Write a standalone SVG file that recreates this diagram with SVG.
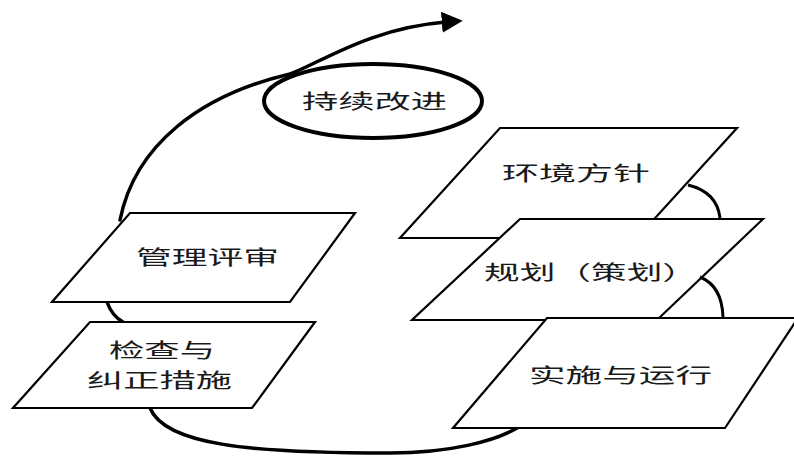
<svg xmlns="http://www.w3.org/2000/svg" width="794" height="458" viewBox="0 0 794 458">
<style>
.box{fill:#fff;stroke:#000;stroke-width:2.2;stroke-linejoin:miter}
.conn{fill:none;stroke:#000;stroke-width:3.5;stroke-linecap:round}
.arc{fill:none;stroke:#000;stroke-width:3}
.lbl{font-family:"Noto Sans CJK SC","Noto Sans CJK JP",sans-serif;font-size:20px;fill:#1a1a1a;text-anchor:start}
</style>
<defs>
<marker id="ah" viewBox="0 0 10 10" refX="2" refY="5" markerWidth="6" markerHeight="6" orient="auto" markerUnits="strokeWidth">
<path d="M0 0 L10 5 L0 10 Z" fill="#000"/>
</marker>
</defs>
<rect width="794" height="458" fill="#fff"/>
<g id="connectors">
<path class="conn" d="M120 220 C135 145 200 95 290 74 C320 63 370 28 446 22" marker-end="url(#ah)"/>
<path class="conn" d="M107 302 Q112 316 123 322"/>
<path class="conn" d="M150 408 C165 445 250 453 390 453 C450 453 495 441 517 428"/>
</g>
<g id="n-improve">
<ellipse cx="373" cy="101" rx="109" ry="37" fill="#fff" stroke="#000" stroke-width="4"/>
<text class="lbl" x="302" y="109" textLength="145" lengthAdjust="spacingAndGlyphs">持续改进</text>
</g>
<g id="n-review">
<polygon class="box" points="130,213 355,213 290,302 52,302"/>
<text class="lbl" x="136" y="265" textLength="143" lengthAdjust="spacingAndGlyphs">管理评审</text>
</g>
<g id="n-check">
<polygon class="box" points="90,322 315,322 252,408 13,408"/>
<text class="lbl" x="109" y="358" textLength="106" lengthAdjust="spacingAndGlyphs">检查与</text>
<text class="lbl" x="87" y="388" textLength="145" lengthAdjust="spacingAndGlyphs">纠正措施</text>
</g>
<g id="n-policy">
<polygon class="box" points="500,128 737,128 637,238 400,238"/>
<text class="lbl" x="502" y="181" textLength="148" lengthAdjust="spacingAndGlyphs">环境方针</text>
</g>
<g id="n-plan">
<polygon class="box" points="520,219 763,219 657,320 412,320"/>
<text class="lbl" x="484" y="280" textLength="214" lengthAdjust="spacingAndGlyphs">规划（策划）</text>
</g>
<g id="n-do">
<polygon class="box" points="547,318 798,318 725,428 453,428"/>
<text class="lbl" x="529" y="383" textLength="183" lengthAdjust="spacingAndGlyphs">实施与运行</text>
</g>
<g id="arcs">
<path class="arc" d="M688 185 Q717 192 720 218"/>
<path class="arc" d="M700 277 Q722 286 723 317"/>
</g>
</svg>
